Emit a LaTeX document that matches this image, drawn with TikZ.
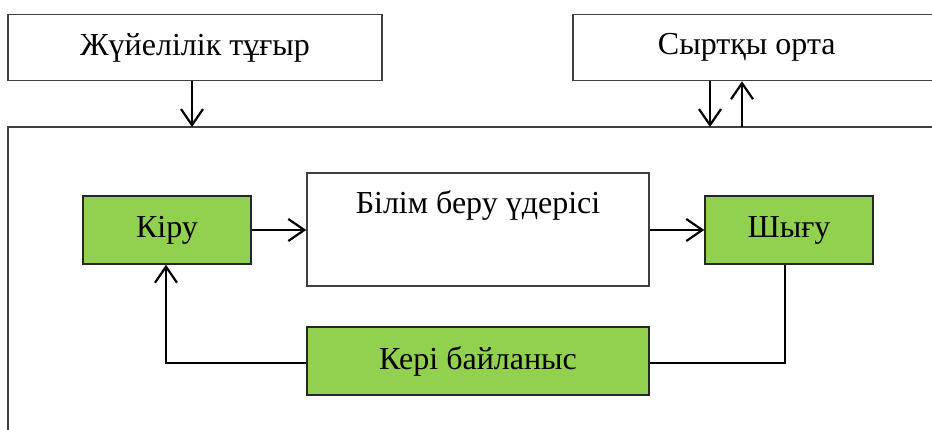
\documentclass[tikz,border=0pt]{standalone}
\usepackage{fontspec}
\setmainfont{Liberation Serif}
\usetikzlibrary{arrows.meta}
\definecolor{grn}{HTML}{92D050}
\definecolor{edge}{HTML}{404040}
\begin{document}
\begin{tikzpicture}[x=1pt,y=-1pt,
  box/.style={draw=edge, line width=1.5pt, fill=white, inner sep=0pt,
    font=\fontsize{32}{38}\selectfont, minimum height=66pt},
  gbox/.style={box, fill=grn, draw=black!85, minimum width=168pt, minimum height=68pt},
  wire/.style={line width=2.2pt, black},
  arr/.style={wire, -{Straight Barb[length=16pt,width=22pt,line width=2.2pt]}},
  frame/.style={draw=edge, line width=1.5pt}]
\useasboundingbox (0,0) rectangle (932,430);
% top boxes
\node[box, minimum width=374pt] (jt) at (195,47.5) {Жүйелілік тұғыр};
\node[box, minimum width=370pt, anchor=west] (sy) at (572,47.5) {Сыртқы орта\hspace*{22pt}};
% frame
\coordinate (fbl) at (8,440);
\coordinate (ftl) at (8,127);
\coordinate (ftr) at (945,127);
\draw[frame] (fbl) -- (ftl) -- (ftr);
\coordinate (d1) at (710,127);
\coordinate (u1) at (742,127);
% inner boxes
\node[gbox] (kiru) at (167,230) {Кіру};
\node[box, minimum width=342pt, minimum height=113pt] (bilim) at (478,229.5) {};
\node[font=\fontsize{32}{38}\selectfont, anchor=base, inner sep=0pt] (bilimtxt) at ([yshift=-41pt]bilim.north) {Білім беру үдерісі};
\node[gbox] (shygu) at (789,230) {Шығу};
\node[gbox, minimum width=342pt] (keri) at (478,361) {Кері байланыс};
% connectors
\draw[arr] ([xshift=-3pt]jt.south) -- ([xshift=-3pt]jt.south |- ftl);
\draw[arr] (sy.south -| d1) -- (d1);
\draw[arr] (u1) -- (sy.south -| u1);
\draw[arr] (kiru.east) -- (kiru.east -| bilim.west);
\draw[arr] (bilim.east |- shygu) -- (shygu.west);
\draw[wire] ([xshift=-4pt]shygu.south) |- ([yshift=-2pt]keri.east);
\draw[arr] ([yshift=-2pt]keri.west) -| ([xshift=-1pt]kiru.south);
\end{tikzpicture}
\end{document}
